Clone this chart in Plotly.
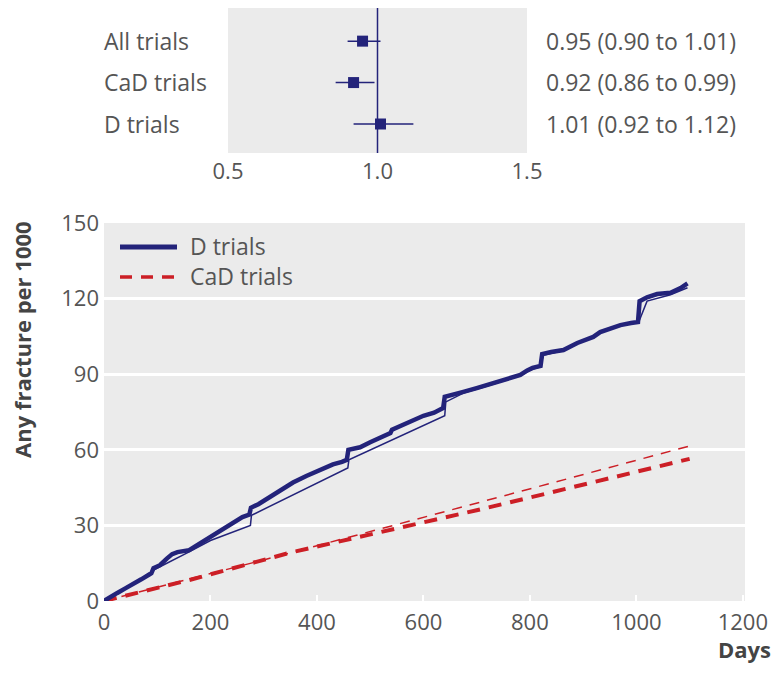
import plotly.graph_objects as go

# ---- forest plot data (hazard ratios) ----
groups = ["All trials", "CaD trials", "D trials"]
hr = [0.95, 0.92, 1.01]
hr_lo = [0.90, 0.86, 0.92]
hr_hi = [1.01, 0.99, 1.12]
hr_labels = ["0.95 (0.90 to 1.01)", "0.92 (0.86 to 0.99)", "1.01 (0.92 to 1.12)"]
forest_ticks = [0.5, 1.0, 1.5]

# ---- cumulative incidence, D trials ----
d_days = [0, 10, 25, 40, 55, 70, 85, 89, 93, 105, 118, 128, 138, 150, 160, 172, 185, 200,
          215, 231, 245, 260, 273, 276, 290, 310, 331, 355, 380, 406, 430, 447, 456, 459,
          470, 481, 500, 520, 538, 541, 560, 580, 600, 620, 637, 640, 655, 675, 700, 720,
          740, 760, 782, 795, 805, 820, 823, 840, 863, 889, 905, 919, 932, 950, 970, 990,
          1003, 1006, 1020, 1039, 1064, 1083, 1096]
d_vals = [0, 1.4, 3.2, 5, 6.6, 8.6, 10.5, 11, 13, 14.2, 16.8, 18.6, 19.4, 19.6, 20.2, 21.8,
          23.5, 25.5, 27.5, 30, 31.7, 33.3, 34.3, 37, 38.4, 41, 43.5, 47, 49.6, 52, 54.2,
          55.2, 56, 60, 60.4, 61, 63, 65, 66.7, 68, 69.8, 71.6, 73.5, 74.7, 76.6, 81, 82,
          83, 84.5, 85.7, 87, 88.3, 89.7, 91.5, 92.5, 93.3, 98, 98.8, 99.6, 102.4, 103.6,
          104.8, 106.7, 108, 109.5, 110.3, 110.7, 119, 120.5, 121.8, 122.3, 124.2, 126]

# modelled D trials curve
d_fit_days = [0, 40, 89, 95, 160, 200, 275, 277, 458, 460, 640, 642, 675, 720, 782, 805,
              820, 825, 863, 889, 932, 970, 1004, 1020, 1064, 1096]
d_fit_vals = [0, 5, 11.5, 12.5, 19.5, 24, 30, 34, 52.8, 56, 73.5, 79, 82.5, 85.3, 89.5, 92,
              93, 97.5, 99.4, 102, 106.4, 109.3, 110.5, 119, 121.5, 124.3]

# ---- cumulative incidence, CaD trials ----
cad_days = [0, 160, 350, 524, 700, 838, 1100]
cad_vals = [0, 8.3, 19.2, 27.4, 36, 43, 56.4]
cad_fit_days = [0, 300, 556, 838, 1100]
cad_fit_vals = [0, 16.3, 30.7, 46.8, 61.5]

x_ticks = [0, 200, 400, 600, 800, 1000, 1200]
y_ticks = [0, 30, 60, 90, 120, 150]

NAVY = "#23237a"
RED = "#cc1f26"
GREY_TXT = "#555555"
TITLE_TXT = "#444444"
PANEL = "#ebebeb"
FONT = "Open Sans"
W, H = 775, 675


def px(x):
    return x / W


def py(y):
    return 1 - y / H


fig = go.Figure()

# forest plot
rows = [1, 2, 3]
fig.add_trace(go.Scatter(
    x=hr, y=rows, mode="markers",
    marker=dict(symbol="square", size=11, color=NAVY),
    error_x=dict(type="data", symmetric=False,
                 array=[h - m for h, m in zip(hr_hi, hr)],
                 arrayminus=[m - l for m, l in zip(hr, hr_lo)],
                 color=NAVY, thickness=1.5, width=0),
    xaxis="x", yaxis="y", showlegend=False, hoverinfo="skip"))

# cumulative curves
fig.add_trace(go.Scatter(x=cad_fit_days, y=cad_fit_vals, mode="lines",
                         line=dict(color=RED, width=1.5, dash="10px,8px"),
                         xaxis="x2", yaxis="y2", showlegend=False))
fig.add_trace(go.Scatter(x=cad_days, y=cad_vals, mode="lines",
                         line=dict(color=RED, width=4, dash="13px,9px"),
                         xaxis="x2", yaxis="y2", showlegend=False))
fig.add_trace(go.Scatter(x=d_fit_days, y=d_fit_vals, mode="lines",
                         line=dict(color=NAVY, width=1.5),
                         xaxis="x2", yaxis="y2", showlegend=False))
fig.add_trace(go.Scatter(x=d_days, y=d_vals, mode="lines",
                         line=dict(color=NAVY, width=4.5),
                         xaxis="x2", yaxis="y2", showlegend=False))

shapes = [
    # line of no effect
    dict(type="line", xref="x", yref="y domain", x0=1.0, x1=1.0, y0=0, y1=1,
         line=dict(color=NAVY, width=1.5)),
    # legend samples
    dict(type="line", xref="paper", yref="paper", x0=px(120), x1=px(177), y0=py(247), y1=py(247),
         line=dict(color=NAVY, width=5)),
    dict(type="line", xref="paper", yref="paper", x0=px(120), x1=px(177), y0=py(277), y1=py(277),
         line=dict(color=RED, width=3.5, dash="12px,9px")),
]

label_font = dict(family=FONT, size=23, color=GREY_TXT)
title_font = dict(family=FONT, size=22, color=TITLE_TXT)
annotations = []
for g, r in zip(groups, [41, 82, 124]):
    annotations.append(dict(text=g, x=px(102), y=py(r), xref="paper", yref="paper",
                            xanchor="left", yanchor="middle", showarrow=False, font=label_font))
for t, r in zip(hr_labels, [41, 82, 124]):
    annotations.append(dict(text=t, x=px(544), y=py(r), xref="paper", yref="paper",
                            xanchor="left", yanchor="middle", showarrow=False, font=label_font))
for t, r in zip(["D trials", "CaD trials"], [246, 276]):
    annotations.append(dict(text=t, x=px(188), y=py(r), xref="paper", yref="paper",
                            xanchor="left", yanchor="middle", showarrow=False, font=label_font))
annotations.append(dict(text="<b>Any fracture per 1000</b>", x=px(22), y=py(340),
                        xref="paper", yref="paper", xanchor="center", yanchor="middle",
                        textangle=-90, showarrow=False, font=title_font))
annotations.append(dict(text="<b>Days</b>", x=px(773), y=py(649), xref="paper", yref="paper",
                        xanchor="right", yanchor="middle", showarrow=False, font=title_font))

axis_font = dict(family=FONT, size=22, color=GREY_TXT)

fig.update_layout(
    width=W, height=H,
    margin=dict(l=0, r=0, t=0, b=0, autoexpand=False),
    paper_bgcolor="white",
    plot_bgcolor=PANEL,
    shapes=shapes,
    annotations=annotations,
    xaxis=dict(domain=[px(228), px(527)], range=[0.5, 1.5], tickvals=forest_ticks,
               ticktext=["0.5", "1.0", "1.5"], showgrid=False, zeroline=False,
               showline=False, ticks="", tickfont=axis_font, anchor="y",
               automargin=False, ticklabelstandoff=3),
    yaxis=dict(domain=[py(153), py(8)], range=[3.7, 0.2], showticklabels=False,
               showgrid=False, zeroline=False, showline=False, ticks="", anchor="x",
               automargin=False),
    xaxis2=dict(domain=[px(104), px(745)], range=[0, 1204], tickvals=x_ticks,
                showgrid=False, zeroline=False, showline=False,
                ticks="inside", ticklen=6, tickwidth=2, tickcolor="white",
                tickfont=axis_font, anchor="y2", automargin=False, ticklabelstandoff=6),
    yaxis2=dict(domain=[py(601), py(223)], range=[0, 150], tickvals=y_ticks,
                showgrid=True, gridcolor="white", gridwidth=3, zeroline=False,
                showline=False, ticks="", tickfont=axis_font, anchor="x2",
                automargin=False, ticklabelstandoff=4),
)

fig.write_html("out.html")
